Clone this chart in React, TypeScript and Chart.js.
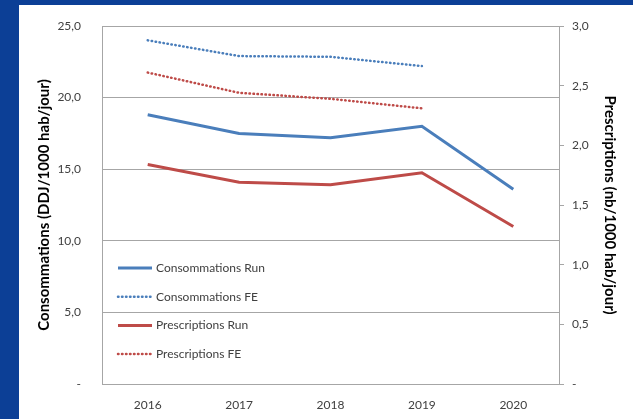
import React, { useEffect, useRef } from "react";
import { Chart, registerables } from "chart.js";

Chart.register(...registerables);

const years = ["2016", "2017", "2018", "2019", "2020"];
const consoRun = [18.8, 17.5, 17.2, 18.0, 13.6];
const consoFE = [24.0, 22.9, 22.85, 22.2, null];
const prescRun = [1.84, 1.69, 1.67, 1.77, 1.32];
const prescFE = [2.61, 2.44, 2.39, 2.31, null];
const leftTickLabels = ["-", "5,0", "10,0", "15,0", "20,0", "25,0"];
const rightTickLabels = ["-", "0,5", "1,0", "1,5", "2,0", "2,5", "3,0"];

const BLUE = "#4A7EBB";
const RED = "#BE4B48";
const GRID = "#A6A6A6";
const TEXT = "#404040";
const FONT = "Lato, 'Open Sans', sans-serif";

const legendPlugin = {
  id: "innerLegend",
  afterDatasetsDraw(chart: any) {
    const { ctx, chartArea } = chart;
    const x0 = chartArea.left + 16;
    const lineLen = 34;
    const startY = chartArea.top + 242;
    const step = 28.7;
    ctx.save();
    chart.data.datasets.forEach((ds: any, i: number) => {
      const y = startY + i * step;
      ctx.beginPath();
      ctx.strokeStyle = ds.borderColor;
      ctx.lineWidth = ds.borderWidth;
      ctx.lineCap = ds.borderCapStyle || "butt";
      ctx.setLineDash(ds.borderDash || []);
      ctx.moveTo(x0, y);
      ctx.lineTo(x0 + lineLen, y);
      ctx.stroke();
      ctx.setLineDash([]);
      ctx.fillStyle = TEXT;
      ctx.font = `12px ${FONT}`;
      ctx.textBaseline = "middle";
      ctx.textAlign = "left";
      ctx.fillText(ds.label, x0 + lineLen + 4, y);
    });
    ctx.restore();
  },
};

export default function App() {
  const ref = useRef<HTMLCanvasElement | null>(null);

  useEffect(() => {
    document.body.style.margin = "0";
    if (!ref.current) return;
    const chart = new Chart(ref.current, {
      type: "line",
      data: {
        labels: years,
        datasets: [
          {
            label: "Consommations Run",
            data: consoRun,
            yAxisID: "y",
            borderColor: BLUE,
            borderWidth: 3,
            pointRadius: 0,
            tension: 0,
          },
          {
            label: "Consommations FE",
            data: consoFE,
            yAxisID: "y",
            borderColor: BLUE,
            borderWidth: 2.5,
            borderDash: [0.5, 3.5],
            borderCapStyle: "round",
            pointRadius: 0,
            tension: 0,
          },
          {
            label: "Prescriptions Run",
            data: prescRun,
            yAxisID: "y1",
            borderColor: RED,
            borderWidth: 3,
            pointRadius: 0,
            tension: 0,
          },
          {
            label: "Prescriptions FE",
            data: prescFE,
            yAxisID: "y1",
            borderColor: RED,
            borderWidth: 2.5,
            borderDash: [0.5, 3.5],
            borderCapStyle: "round",
            pointRadius: 0,
            tension: 0,
          },
        ] as any,
      },
      options: {
        animation: false,
        responsive: false,
        layout: { autoPadding: false, padding: { top: 21, left: 0, right: 0, bottom: 0 } },
        plugins: { legend: { display: false }, tooltip: { enabled: false } },
        scales: {
          x: {
            offset: true,
            grid: { display: false },
            border: { display: true, color: GRID },
            ticks: { color: TEXT, font: { family: FONT, size: 12 }, padding: 6 },
            afterFit(scale: any) {
              scale.height = 35;
            },
          },
          y: {
            position: "left",
            min: 0,
            max: 25,
            ticks: {
              stepSize: 5,
              color: TEXT,
              font: { family: FONT, size: 12 },
              padding: 3,
              callback: (_v: any, i: number) => leftTickLabels[i],
            },
            grid: { color: GRID, drawTicks: true, tickLength: 18, tickColor: "rgba(0,0,0,0)", lineWidth: 1 },
            border: { display: true, color: GRID },
            title: {
              display: true,
              text: "Consommations (DDJ/1000 hab/jour)",
              color: "#000",
              font: { family: FONT, size: 15, weight: "bold" },
              padding: { top: 16.5, bottom: 0 },
            },
            afterFit(scale: any) {
              scale.width = 83;
            },
          },
          y1: {
            position: "right",
            min: 0,
            max: 3,
            ticks: {
              stepSize: 0.5,
              color: TEXT,
              font: { family: FONT, size: 12 },
              padding: 8,
              callback: (_v: any, i: number) => rightTickLabels[i],
            },
            grid: { drawOnChartArea: false, drawTicks: true, tickLength: 5, color: GRID },
            border: { display: true, color: GRID },
            title: {
              display: true,
              text: "Prescriptions (nb/1000 hab/jour)",
              color: "#000",
              font: { family: FONT, size: 15, weight: "bold" },
              padding: { top: 14, bottom: 0 },
            },
            afterFit(scale: any) {
              scale.width = 74;
            },
          },
        },
      } as any,
      plugins: [legendPlugin],
    });
    return () => chart.destroy();
  }, []);

  return (
    <div style={{ position: "relative", width: 633, height: 419, background: "#0C3F96", overflow: "hidden" }}>
      <div style={{ position: "absolute", left: 19, top: 5, width: 614, height: 414, background: "#fff" }}>
        <canvas ref={ref} width={614} height={414} style={{ width: 614, height: 414, display: "block" }} />
      </div>
    </div>
  );
}
